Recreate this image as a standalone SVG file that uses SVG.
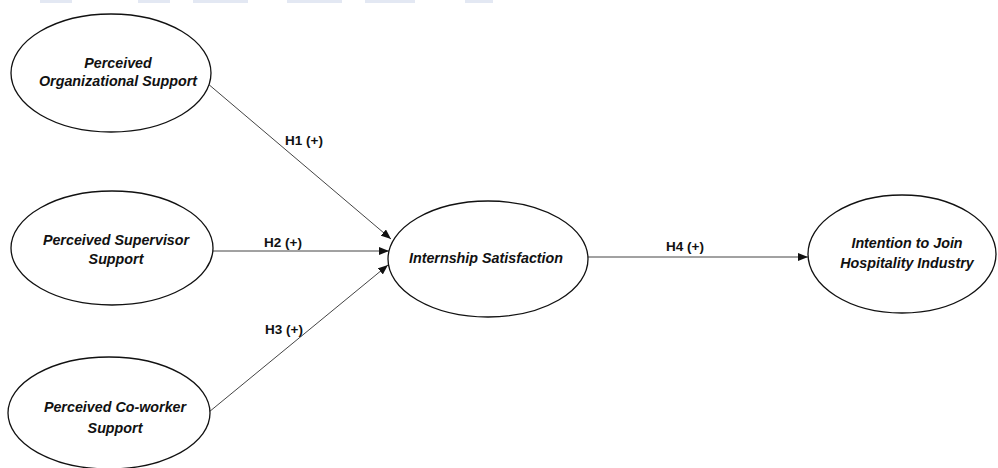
<svg xmlns="http://www.w3.org/2000/svg" width="998" height="468" viewBox="0 0 998 468">
<style>
.node ellipse{fill:#fff;stroke:#111;stroke-width:1.3}
.node text{font-family:"Liberation Sans",Arial,sans-serif;font-weight:bold;font-style:italic;font-size:14.3px;fill:#111;text-anchor:middle}
.edge line{stroke:#444;stroke-width:1}
.lbl{font-family:"Liberation Sans",Arial,sans-serif;font-weight:bold;font-size:13.5px;fill:#111;text-anchor:middle}
.wm{fill:#e3e8f3}
</style>
<defs>
<marker id="ah" viewBox="0 0 10 8" refX="10" refY="4" markerWidth="10" markerHeight="8" markerUnits="userSpaceOnUse" orient="auto">
<path d="M0,0 L10,4 L0,8 z" fill="#111"/>
</marker>
</defs>
<rect width="998" height="468" fill="#fff"/>
<g id="watermark">
<rect class="wm" x="40" y="0" width="32" height="3"/>
<rect class="wm" x="138" y="0" width="32" height="3"/>
<rect class="wm" x="193" y="0" width="55" height="3"/>
<rect class="wm" x="287" y="0" width="55" height="3"/>
<rect class="wm" x="365" y="0" width="50" height="3"/>
<rect class="wm" x="465" y="0" width="28" height="3"/>
</g>
<g id="connectors">
<g class="edge"><line x1="207" y1="83" x2="391" y2="239" marker-end="url(#ah)"/><text class="lbl" x="304" y="145">H1 (+)</text></g>
<g class="edge"><line x1="213" y1="251" x2="389" y2="251" marker-end="url(#ah)"/><text class="lbl" x="283" y="247">H2 (+)</text></g>
<g class="edge"><line x1="209" y1="412" x2="388" y2="265" marker-end="url(#ah)"/><text class="lbl" x="284" y="334">H3 (+)</text></g>
<g class="edge"><line x1="588" y1="257" x2="808" y2="257" marker-end="url(#ah)"/><text class="lbl" x="685" y="251">H4 (+)</text></g>
</g>
<g id="pos" class="node"><ellipse cx="111" cy="73" rx="100" ry="59"/><text x="118" y="68">Perceived</text><text x="118" y="86">Organizational Support</text></g>
<g id="pss" class="node"><ellipse cx="112" cy="248" rx="101" ry="57"/><text x="116" y="245">Perceived Supervisor</text><text x="116" y="264">Support</text></g>
<g id="pcs" class="node"><ellipse cx="109" cy="413" rx="101" ry="56"/><text x="115" y="412">Perceived Co-worker</text><text x="115" y="433">Support</text></g>
<g id="is" class="node"><ellipse cx="488" cy="259" rx="100" ry="58"/><text x="486" y="263">Internship Satisfaction</text></g>
<g id="ij" class="node"><ellipse cx="902" cy="254" rx="94" ry="59"/><text x="907" y="248">Intention to Join</text><text x="907" y="268">Hospitality Industry</text></g>
</svg>
